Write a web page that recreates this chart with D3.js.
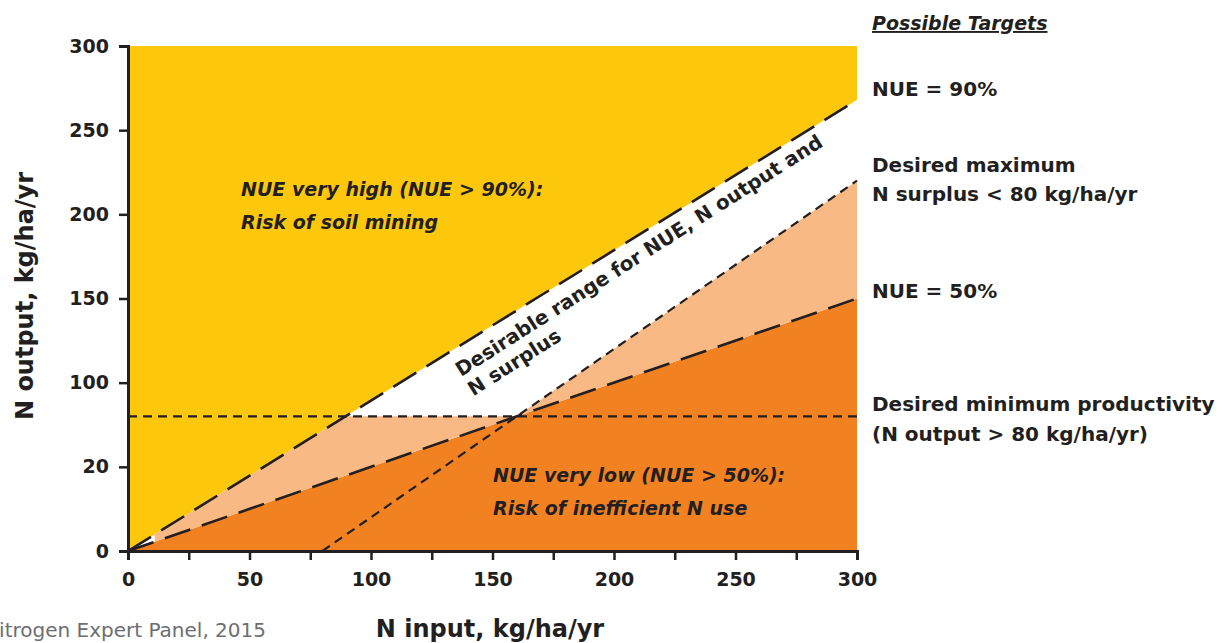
<!DOCTYPE html>
<html><head><meta charset="utf-8">
<script src="https://cdn.jsdelivr.net/npm/d3@7"></script>
<style>
html,body{margin:0;padding:0;background:#fff;overflow:hidden;}
svg{display:block;}
text{font-family:"DejaVu Sans",sans-serif;fill:#231f20;}
</style></head>
<body>
<script>
// ---- data ----
const xTickValues = [0, 50, 100, 150, 200, 250, 300];
const xMinorTicks = [25, 75, 125, 175, 225, 275];
const yTickValues = [0, 50, 100, 150, 200, 250, 300];
const yTickLabels = ["0", "20", "100", "150", "200", "250", "300"];
// boundary lines (N input, N output)
const nue90Line = [[0, 0], [300, 268]];
const nue50Line = [[0, 0], [300, 150]];
const surplusLine = [[80, 0], [300, 220]];
const minOutputLine = [[0, 80], [300, 80]];
// regions
const highRegion = [[0, 0], [300, 268], [300, 300], [0, 300]];
const midRegion = [[11, 5.5], [11, 9.8], [89.5, 80], [160, 80], [300, 220], [300, 150]];
const lowRegion = [[0, 0], [300, 150], [300, 0]];
const targetLabels = [
  {lines: ["NUE = 90%"], y: 96},
  {lines: ["Desired maximum"], y: 172},
  {lines: ["N surplus < 80 kg/ha/yr"], y: 201},
  {lines: ["NUE = 50%"], y: 298},
  {lines: ["Desired minimum productivity"], y: 411},
  {lines: ["(N output > 80 kg/ha/yr)"], y: 441}
];

const W = 1230, H = 643;
const svg = d3.select("body").append("svg").attr("width", W).attr("height", H);
const x = d3.scaleLinear().domain([0, 300]).range([128, 857]);
const y = d3.scaleLinear().domain([0, 300]).range([551, 46]);
const line = d3.line().x(d => x(d[0])).y(d => y(d[1]));
const poly = pts => line(pts) + "Z";

svg.append("path").attr("d", poly(highRegion)).attr("fill", "#fdc70c");
svg.append("path").attr("d", poly(lowRegion)).attr("fill", "#f28122");
svg.append("path").attr("d", poly(midRegion)).attr("fill", "#f8b985");

const ink = "#231f20";
const longDash = "27,12", shortDash = "9,6";
svg.append("path").attr("d", line(minOutputLine)).attr("stroke", ink).attr("stroke-width", 2.2).attr("fill", "none").attr("stroke-dasharray", shortDash);
svg.append("path").attr("d", line(surplusLine)).attr("stroke", ink).attr("stroke-width", 2.2).attr("fill", "none").attr("stroke-dasharray", shortDash);
svg.append("path").attr("d", line(nue90Line)).attr("stroke", ink).attr("stroke-width", 2.6).attr("fill", "none").attr("stroke-dasharray", longDash);
svg.append("path").attr("d", line(nue50Line)).attr("stroke", ink).attr("stroke-width", 2.6).attr("fill", "none").attr("stroke-dasharray", longDash);

// axes
svg.append("g").attr("transform", `translate(0,${y(0)})`)
  .call(d3.axisBottom(x).tickValues(xTickValues).tickSize(9).tickPadding(13).tickFormat(d3.format("d")));
svg.append("g").attr("transform", `translate(0,${y(0)})`)
  .call(d3.axisBottom(x).tickValues(xMinorTicks).tickSize(9).tickFormat(""))
  .call(g => g.select(".domain").remove());
svg.append("g").attr("transform", `translate(${x(0)},0)`)
  .call(d3.axisLeft(y).tickValues(yTickValues).tickSize(9).tickPadding(10).tickFormat((d, i) => yTickLabels[i]));
svg.selectAll(".domain").attr("stroke", ink).attr("stroke-width", 3);
svg.selectAll(".tick line").attr("stroke", ink).attr("stroke-width", 2.5);
svg.selectAll(".tick text").attr("font-size", 19).attr("font-weight", "bold").attr("font-family", "DejaVu Sans").attr("fill", ink);

// axis titles
svg.append("text").attr("x", 490).attr("y", 637).attr("text-anchor", "middle")
  .attr("font-size", 24).attr("font-weight", "bold").text("N input, kg/ha/yr");
svg.append("text").attr("transform", "translate(33,296) rotate(-90)").attr("text-anchor", "middle")
  .attr("font-size", 24).attr("font-weight", "bold").text("N output, kg/ha/yr");
svg.append("text").attr("x", 266).attr("y", 637).attr("text-anchor", "end")
  .attr("font-size", 20).style("fill", "#6d6e71").text("Nitrogen Expert Panel, 2015");

// region annotations
const ann = (tx, ty, lines) => {
  const t = svg.append("text").attr("font-size", 19).attr("font-weight", "bold").attr("font-style", "italic");
  lines.forEach((l, i) => t.append("tspan").attr("x", tx).attr("y", ty + i * 33).text(l));
};
ann(241, 196, ["NUE very high (NUE > 90%):", "Risk of soil mining"]);
ann(493, 482, ["NUE very low (NUE > 50%):", "Risk of inefficient N use"]);

const rt = svg.append("text").attr("transform", "translate(461,377) rotate(-32.5)")
  .attr("font-size", 19.8).attr("font-weight", "bold");
rt.append("tspan").attr("x", 0).attr("y", 0).text("Desirable range for NUE, N output and");
rt.append("tspan").attr("x", 0).attr("y", 23).text("N surplus");

// targets
svg.append("text").attr("x", 872).attr("y", 30).attr("font-size", 19).attr("font-weight", "bold")
  .attr("font-style", "italic").attr("text-decoration", "underline").text("Possible Targets");
targetLabels.forEach(t => {
  svg.append("text").attr("x", 872).attr("y", t.y).attr("font-size", 20).attr("font-weight", "bold").text(t.lines[0]);
});
</script>
</body></html>
